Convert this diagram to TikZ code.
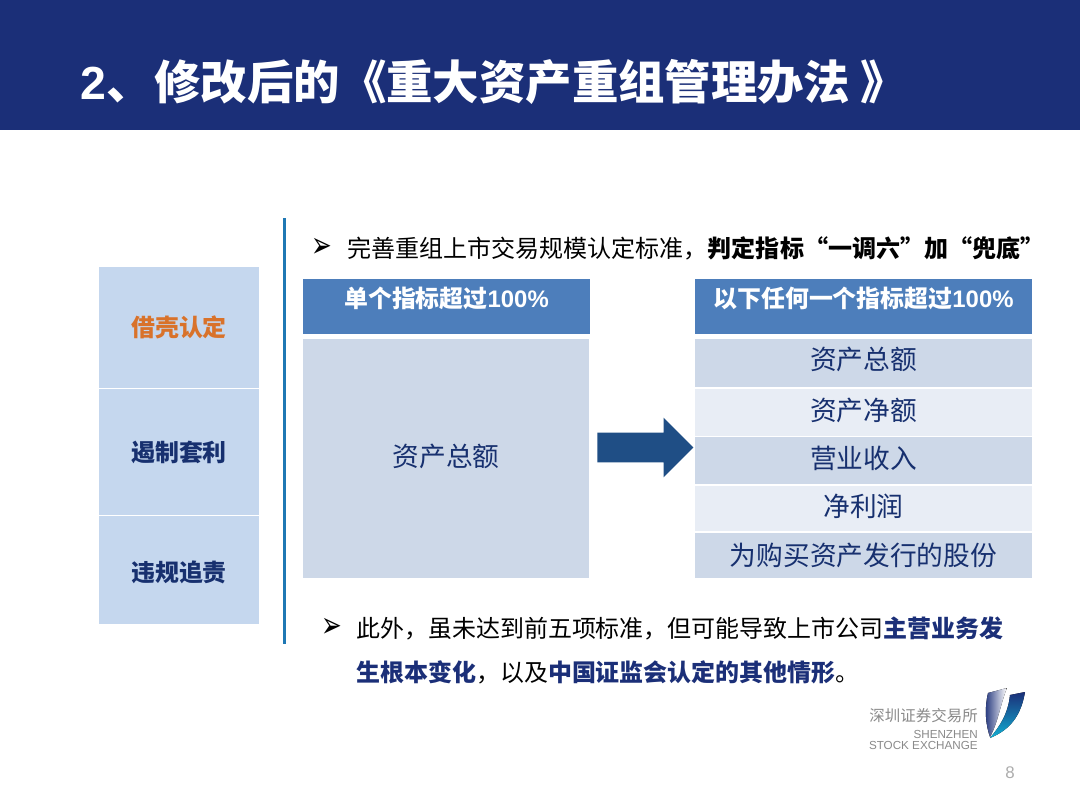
\documentclass[tikz,border=0pt]{standalone}
\usepackage{fontspec}
\setmainfont{Noto Sans CJK SC}
\newfontfamily\latfont{Liberation Sans}
\newfontfamily\symfont{DejaVu Sans}
\usetikzlibrary{shapes.arrows}
\definecolor{navy}{HTML}{1B2F78}
\definecolor{steel}{HTML}{4D7EBB}
\definecolor{rowdark}{HTML}{CDD8E8}
\definecolor{rowlight}{HTML}{E8EDF5}
\definecolor{sidefill}{HTML}{C5D7EE}
\definecolor{sidetext}{HTML}{17306F}
\definecolor{picked}{HTML}{D9722A}
\definecolor{rule}{HTML}{1F78B4}
\definecolor{arrowblue}{HTML}{1F4E85}
\definecolor{logogray}{HTML}{8A8A8A}
\newcommand*{\lat}[1]{{\latfont #1}}
\newcommand*{\hl}[1]{\textbf{\textcolor{navy}{#1}}}
\newcommand*{\bulletglyph}{\scalebox{1.1}[1.6]{➢}}
\tikzset{
    sidebox/.style={fill=sidefill, minimum width=4cm, font=\fontsize{17}{20}\selectfont\bfseries, text=sidetext},
    headbox/.style={fill=steel, minimum height=1.375cm, text=white, text depth=.45cm, font=\fontsize{17}{20}\selectfont\bfseries},
    bigbox/.style={fill=rowdark, text depth=.18cm, font=\fontsize{19}{22}\selectfont, text=sidetext},
    rowbox/.style={minimum width=8.425cm, text depth=.18cm, font=\fontsize{19}{22}\selectfont, text=sidetext},
    bodytext/.style={anchor=west, inner sep=0pt, font=\fontsize{17.1}{20}\selectfont, text=black},
    bulletmark/.style={inner sep=0pt, font=\symfont\fontsize{16}{18}\selectfont},
}
\begin{document}
\begin{tikzpicture}
    \useasboundingbox(0, 0)rectangle(27, 20.25);
    \fill[white](0, 0)rectangle(27, 20.25);
    \fill[navy](0, 17)rectangle(27, 20.25);
    \node[anchor=west, inner sep=0pt, text=white, font=\fontsize{33}{38}\selectfont\bfseries](title)at(2, 18.2){\lat{2}、\hspace{.05cm}修改后的《重大资产重组管理办法\hspace{.25cm}》};
    \node[sidebox, minimum height=3.025cm, text=picked](shell)at(4.475, 12.0625){借壳认定};
    \node[sidebox, minimum height=3.15cm](arbitrage)at(4.475, 8.95){遏制套利};
    \node[sidebox, minimum height=2.7cm, text height=.63cm](penalty)at(4.475, 6){违规追责};
    \fill[rule](7.07, 4.15)rectangle(7.155, 14.8);
    \node[bulletmark](bulletA)at(8.05, 14.05){\bulletglyph};
    \node[bodytext](lineA)at(8.675, 14.05){完善重组上市交易规模认定标准，\textbf{判定指标“一调六”加“兜底”}};
    \node[headbox, minimum width=7.175cm](headL)at(11.1625, 12.5875){单个指标超过\lat{100\%}};
    \node[headbox, minimum width=8.425cm](headR)at(21.5875, 12.5875){以下任何一个指标超过\lat{100\%}};
    \node[bigbox, minimum width=7.15cm, minimum height=5.975cm](assetL)at(11.15, 8.7875){资产总额};
    \node[rowbox, fill=rowdark, minimum height=1.2cm, text depth=.25cm](rowA)at(21.5875, 11.175){资产总额};
    \node[rowbox, fill=rowlight, minimum height=1.175cm](rowB)at(21.5875, 9.9375){资产净额};
    \node[rowbox, fill=rowdark, minimum height=1.175cm](rowC)at(21.5875, 8.7375){营业收入};
    \node[rowbox, fill=rowlight, minimum height=1.125cm](rowD)at(21.5875, 7.5375){净利润};
    \node[rowbox, fill=rowdark, minimum height=1.125cm, text depth=.08cm](rowE)at(21.5875, 6.3625){为购买资产发行的股份};
    \node[single arrow, fill=arrowblue, inner sep=0pt, text height=.725cm, text depth=0pt, minimum height=2.4cm, minimum width=1.475cm, single arrow head extend=.375cm](arrowLR)at(15.95, 9.0625){};
    \node[bulletmark](bulletB)at(8.3, 4.55){\bulletglyph};
    \node[bodytext, align=left, font=\fontsize{17.05}{31.3}\selectfont](lineB)at(8.9, 4){此外，虽未达到前五项标准，但可能导致上市公司\hl{主营业务发}\\\hl{生根本变化}，以及\hl{中国证监会认定的其他情形}。};
    \node[anchor=east, inner sep=0pt, text=logogray, font=\fontsize{11}{13}\selectfont](logoCN)at(24.45, 2.35){深圳证券交易所};
    \node[anchor=east, inner sep=0pt, text=logogray, font=\latfont\fontsize{8.3}{9}\selectfont](logoA)at(24.45, 1.9){SHENZHEN};
    \node[anchor=east, inner sep=0pt, text=logogray, font=\latfont\fontsize{8.3}{9}\selectfont](logoB)at(24.45, 1.62){STOCK EXCHANGE};
    \fill[left color=navy, right color=white](25.17, 3.05)--(24.7, 2.925).. controls (24.6, 2.5) and (24.65, 2.1) .. (24.75, 1.825).. controls (24.95, 2.2) and (25, 2.6) .. cycle; % left wing
    \fill[bottom color=rule!60!cyan, top color=navy](25.625, 2.95)--(25.25, 2.875).. controls (25.2, 2.4) and (25, 2.1) .. (24.75, 1.8).. controls (25.1, 1.95) and (25.5, 2.2) .. cycle; % right wing
    \node[text=logogray!70, font=\latfont\fontsize{12}{14}\selectfont](pageno)at(25.25, .925){8};
\end{tikzpicture}
\end{document}
